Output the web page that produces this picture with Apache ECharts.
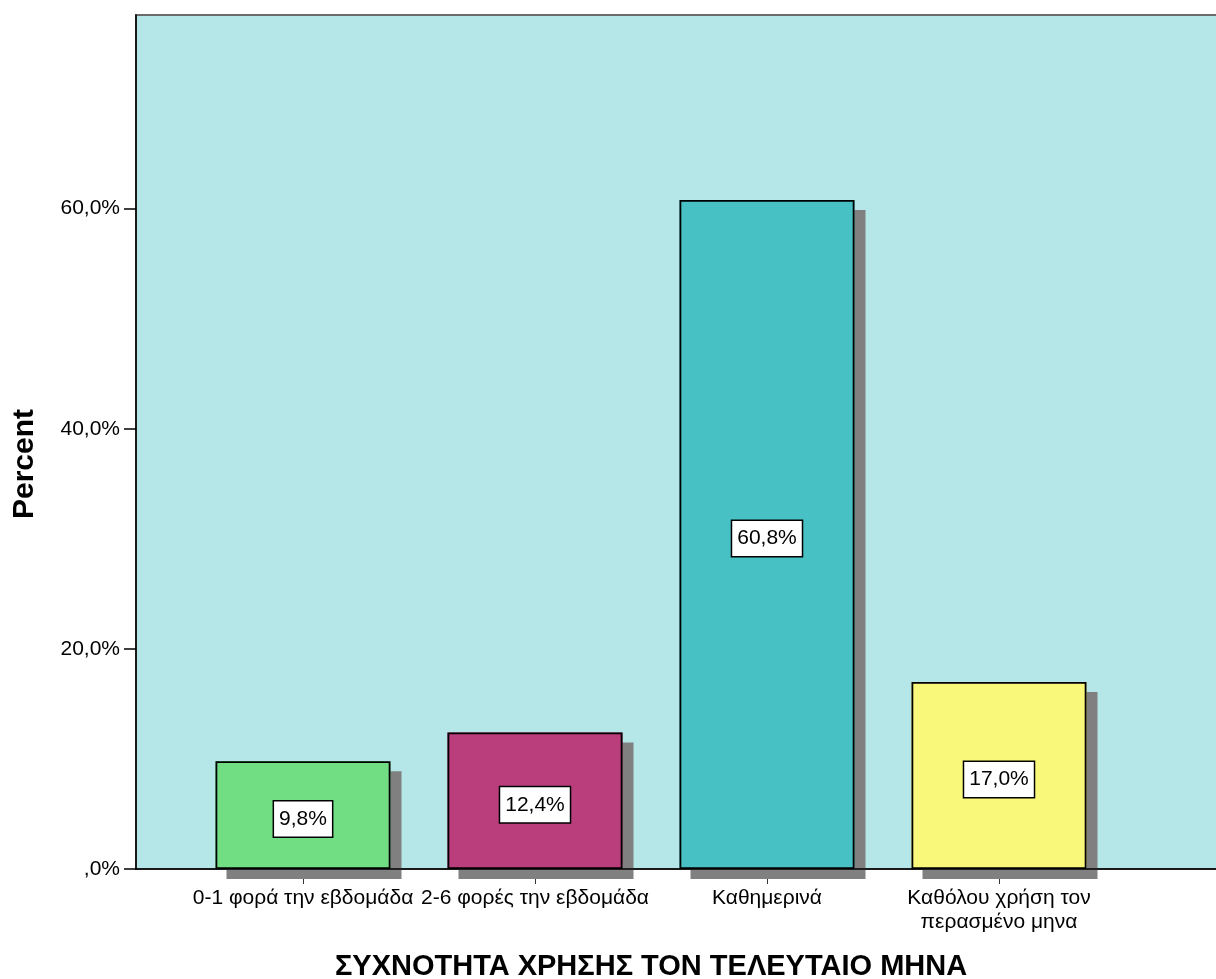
<!DOCTYPE html>
<html>
<head>
<meta charset="utf-8">
<script src="https://cdn.jsdelivr.net/npm/echarts@6/dist/echarts.min.js"></script>
<style>
  html, body { margin: 0; padding: 0; background: #fff; }
  #freq { width: 1216px; height: 979px; }
</style>
</head>
<body>
<div id="freq"></div>
<script>
// συχνότητα χρήσης - ραβδόγραμμα
var categories = ['0-1 φορά την εβδομάδα', '2-6 φορές την εβδομάδα', 'Καθημερινά', 'Καθόλου χρήση τον\nπερασμένο μηνα']
var percents = [9.8, 12.4, 60.8, 17.0]
var barColors = ['#72DE84', '#BA3E7C', '#47C1C4', '#FAF87A']
var yTicks = [0, 20, 40, 60]

var FONT = 'Liberation Sans, Arial, sans-serif'
var Y_MAX = 77.6

function pct (v) {
  if (v === 0) return ',0%'
  return v.toFixed(1).replace('.', ',') + '%'
}

var chart = echarts.init(document.getElementById('freq'))

var barData = []
for (var i in percents) {
  barData.push({
    value: percents[i],
    itemStyle: { color: barColors[i] }
  })
}

var option = {
  animation: false,
  grid: [
    // frame + background + y axis
    { left: 136, top: 15, right: -60, bottom: 110, show: true, outerBoundsMode: 'none',
      backgroundColor: '#B5E6E8', borderColor: '#6a6a6a', borderWidth: 2 },
    // bars
    { left: 187, top: 15, width: 928, bottom: 110, outerBoundsMode: 'none' }
  ],
  xAxis: [
    { type: 'value', gridIndex: 0, min: 0, max: 1, z: 5,
      axisLine: { show: true, lineStyle: { color: '#000', width: 1.5 } },
      axisTick: { show: false }, axisLabel: { show: false }, splitLine: { show: false } },
    { type: 'category', gridIndex: 1, data: categories,
      axisLine: { show: false },
      axisTick: { show: true, alignWithLabel: true, length: 15, lineStyle: { color: '#333' } },
      axisLabel: { interval: 0, margin: 17, color: '#000', fontFamily: FONT, fontSize: 21, lineHeight: 24 },
      name: 'ΣΥΧΝΟΤΗΤΑ ΧΡΗΣΗΣ ΤΟΝ ΤΕΛΕΥΤΑΙΟ ΜΗΝΑ',
      nameLocation: 'middle', nameGap: 83,
      nameTextStyle: { color: '#000', fontFamily: FONT, fontSize: 29, fontWeight: 'bold' } }
  ],
  yAxis: [
    { type: 'value', gridIndex: 0, min: 0, max: Y_MAX, interval: 20,
      axisLine: { show: true, lineStyle: { color: '#000', width: 1.5 } },
      axisTick: { show: true, length: 12, customValues: yTicks, lineStyle: { color: '#000', width: 1.5 } },
      axisLabel: { margin: 16, color: '#000', fontFamily: FONT, fontSize: 21, customValues: yTicks,
        formatter: function (v) { return pct(v) } },
      splitLine: { show: false },
      name: 'Percent', nameLocation: 'middle', nameGap: 96,
      nameTextStyle: { color: '#000', fontFamily: FONT, fontSize: 30, fontWeight: 'bold', padding: [0, 44, 0, 0] } },
    { type: 'value', gridIndex: 1, min: 0, max: Y_MAX, show: false }
  ],
  series: [
    {
      // shadow layer, fill only
      type: 'bar',
      xAxisIndex: 1,
      yAxisIndex: 1,
      data: barData,
      barWidth: 175,
      silent: true,
      itemStyle: {
        shadowColor: '#808080',
        shadowBlur: 0,
        shadowOffsetX: 11,
        shadowOffsetY: 10
      }
    },
    {
      type: 'bar',
      xAxisIndex: 1,
      yAxisIndex: 1,
      data: barData,
      barWidth: 175,
      barGap: '-100%',
      itemStyle: {
        borderColor: '#000',
        borderWidth: 1.8
      },
      label: {
        show: true,
        position: 'inside',
        offset: [0, 4],
        formatter: function (p) { return pct(p.value) },
        color: '#000',
        fontFamily: FONT,
        fontSize: 21,
        backgroundColor: '#fff',
        borderColor: '#000',
        borderWidth: 1.5,
        padding: [8, 5, 6, 5]
      }
    }
  ]
}

chart.setOption(option)
</script>
</body>
</html>
